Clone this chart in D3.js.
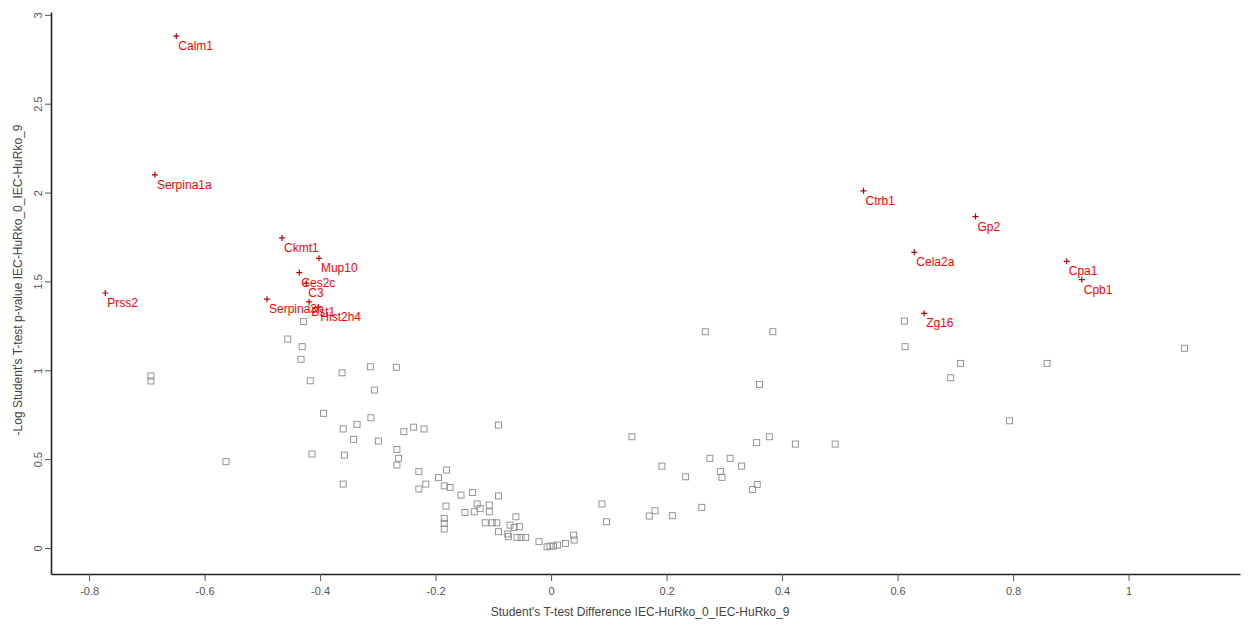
<!DOCTYPE html>
<html><head><meta charset="utf-8">
<script src="https://cdn.jsdelivr.net/npm/d3@7"></script>
<style>body{margin:0;background:#fff}svg{display:block}</style>
</head><body>
<svg id="chart" width="1251" height="629"></svg>
<script>
const xTicks = [-0.8,-0.6,-0.4,-0.2,0,0.2,0.4,0.6,0.8,1];
const yTicks = [0,0.5,1,1.5,2,2.5,3];
const xTitle = "Student's T-test Difference IEC-HuRko_0_IEC-HuRko_9";
const yTitle = "-Log Student's T-test p-value IEC-HuRko_0_IEC-HuRko_9";

const geneNames = ["Calm1","Serpina1a","Prss2","Ckmt1","Mup10","Ces2c","C3","Serpina3n","Bst1","Hist2h4","Ctrb1","Gp2","Cela2a","Cpa1","Cpb1","Zg16"];
const geneX = [-0.649,-0.686,-0.772,-0.466,-0.402,-0.436,-0.424,-0.492,-0.419,-0.403,0.541,0.735,0.629,0.893,0.919,0.646];
const geneY = [2.88,2.10,1.435,1.745,1.63,1.55,1.49,1.40,1.385,1.356,2.01,1.865,1.664,1.613,1.51,1.32];

const otherX = [-0.693,-0.693,-0.563,-0.456,-0.431,-0.433,-0.362,-0.313,-0.268,-0.417,-0.306,-0.394,-0.36,-0.336,-0.312,-0.342,-0.299,-0.414,-0.358,-0.36,-0.255,-0.238,-0.22,-0.267,-0.264,-0.267,-0.229,-0.181,-0.195,-0.217,-0.229,-0.185,-0.175,-0.156,-0.136,-0.091,-0.182,-0.185,-0.185,-0.185,-0.149,-0.133,-0.128,-0.123,-0.107,-0.107,-0.114,-0.102,-0.094,-0.091,-0.061,-0.071,-0.064,-0.055,-0.075,-0.074,-0.059,-0.052,-0.044,-0.021,-0.007,-0.091,-0.429,0.267,0.384,0.361,0.14,0.192,0.233,0.275,0.31,0.33,0.293,0.296,0.356,0.378,0.423,0.492,0.349,0.357,0.261,0.088,0.096,0.17,0.18,0.21,0.039,0.04,0.025,-0.002,0.004,0.011,0.612,0.613,0.709,0.859,0.692,0.794,1.097];
const otherY = [0.968,0.94,0.486,1.176,1.133,1.062,0.986,1.02,1.017,0.941,0.889,0.758,0.67,0.696,0.733,0.612,0.602,0.529,0.523,0.36,0.655,0.68,0.67,0.555,0.505,0.467,0.43,0.439,0.396,0.36,0.332,0.35,0.341,0.298,0.313,0.293,0.236,0.167,0.139,0.107,0.2,0.204,0.248,0.223,0.242,0.204,0.142,0.142,0.142,0.092,0.176,0.129,0.116,0.12,0.079,0.064,0.06,0.06,0.06,0.036,0.007,0.692,1.274,1.217,1.217,0.921,0.626,0.461,0.401,0.505,0.505,0.461,0.43,0.398,0.593,0.626,0.585,0.585,0.33,0.358,0.229,0.248,0.148,0.18,0.21,0.182,0.073,0.045,0.026,0.011,0.011,0.017,1.277,1.133,1.039,1.039,0.958,0.716,1.124];

const svg = d3.select("#chart");
const x = d3.scaleLinear().domain([-0.866, 1.193]).range([51, 1240]);
const y = d3.scaleLinear().domain([-0.146, 3.016]).range([574, 12]);
const font = "'Liberation Sans', Arial, sans-serif";
const fmt = d => String(d);

// axes
const xAxis = svg.append("g").attr("transform","translate(0,574)")
  .call(d3.axisBottom(x).tickValues(xTicks).tickSize(7).tickPadding(6).tickFormat(fmt).tickSizeOuter(0));
const yAxis = svg.append("g").attr("transform","translate(51,0)")
  .call(d3.axisLeft(y).tickValues(yTicks).tickSize(6).tickFormat(fmt).tickSizeOuter(0));
[xAxis,yAxis].forEach(g=>{
  g.select(".domain").attr("stroke","#222").attr("stroke-width",1.6);
  g.selectAll(".tick line").attr("stroke","#555");
  g.selectAll("text").attr("fill","#555").style("font-family",font).style("font-size","11px");
});
yAxis.selectAll(".tick text")
  .attr("x",null).attr("dy",null)
  .attr("text-anchor","middle")
  .attr("transform","translate(-13,0) rotate(-90)")
  .attr("dy","0.35em");

// titles
svg.append("text").attr("x",640).attr("y",616).attr("text-anchor","middle")
  .attr("fill","#444").style("font-family",font).style("font-size","12px").text(xTitle);
svg.append("text").attr("transform","translate(22,280) rotate(-90)").attr("text-anchor","middle")
  .attr("fill","#444").style("font-family",font).style("font-size","12px").text(yTitle);

// gray squares
const others = otherX.map((v,i)=>({x:v,y:otherY[i]}));
svg.append("g").selectAll("rect").data(others).join("rect")
  .attr("x",d=>x(d.x)-3).attr("y",d=>y(d.y)-3).attr("width",6).attr("height",6)
  .attr("fill","none").attr("stroke","#8a8a8a").attr("stroke-width",0.9);

// labeled genes
const genes = geneNames.map((n,i)=>({n,x:geneX[i],y:geneY[i]}));
const gg = svg.append("g");
gg.selectAll("path").data(genes).join("path")
  .attr("d",d=>{const cx=x(d.x),cy=y(d.y);return `M${cx-3},${cy}H${cx+3}M${cx},${cy-3}V${cy+3}`;})
  .attr("stroke","#b00").attr("stroke-width",1.2);
gg.selectAll("text").data(genes).join("text")
  .attr("x",d=>x(d.x)+2).attr("y",d=>y(d.y)+14)
  .attr("fill","#f00").style("font-family",font).style("font-size","12px")
  .text(d=>d.n);
</script>
</body></html>
